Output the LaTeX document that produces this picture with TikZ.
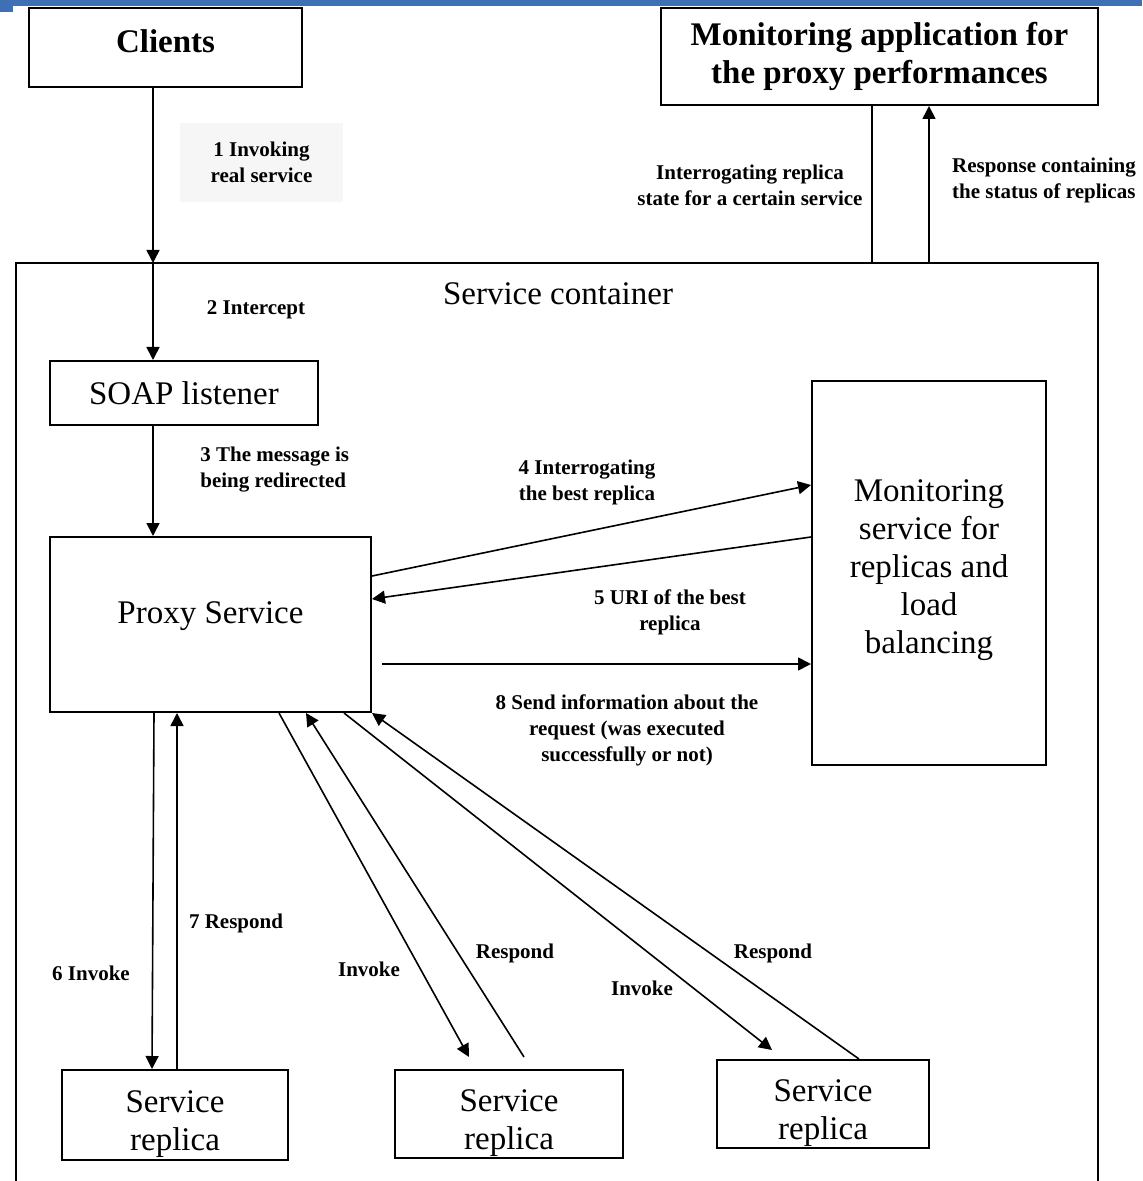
\documentclass[tikz,border=0pt]{standalone}
\usepackage{fontspec}
\setmainfont{Liberation Serif}
\usetikzlibrary{arrows.meta,calc}
\definecolor{barblue}{HTML}{3F6FB5}
\definecolor{faint}{HTML}{F6F6F6}
\begin{document}
\begin{tikzpicture}[x=0.5pt,y=-0.5pt,
  box/.style={draw,line width=1pt,inner sep=0pt,align=center,font=\fontsize{16.5}{19}\selectfont},
  boxtxt/.style={inner sep=0pt,align=center,font=\fontsize{16.5}{19}\selectfont},
  lbl/.style={inner sep=0pt,align=center,font=\fontsize{10.5}{13}\selectfont\bfseries},
  arr/.style={line width=0.8pt,-{Triangle[length=6.5pt,width=6.5pt]}},
  ln/.style={line width=0.8pt}]
\useasboundingbox (0,0) rectangle (1142,1181);
% top bar
\fill[barblue] (0,0) rectangle (1142,6);
\fill[barblue] (0,0) rectangle (13,12);
% service container
\draw[line width=1pt] (16,1181) -- (16,263) -- (1098,263) -- (1098,1181);
\node[boxtxt] (contlbl) at (558,294) {Service container};
\coordinate (ctop) at (153,263);
\coordinate (mq) at (872,263);
\coordinate (mr) at (929,263);
% boxes
\node[box,minimum width=136.5pt,minimum height=39.5pt,
  label={[boxtxt,font=\fontsize{16.5}{19}\selectfont\bfseries,yshift=3pt]center:Clients}] (clients) at (165.5,47.5) {};
\node[box,minimum width=218.5pt,minimum height=48.5pt,font=\fontsize{16.5}{19}\selectfont\bfseries] (monapp) at (879.5,56.5) {Monitoring application for\\the proxy performances};
\node[box,minimum width=134pt,minimum height=32pt] (soap) at (184,393) {SOAP listener};
\node[box,minimum width=160.5pt,minimum height=87.5pt,
  label={[boxtxt,yshift=4pt]center:Proxy Service}] (proxy) at (210.5,624.5) {};
\node[box,minimum width=117pt,minimum height=192pt,
  label={[boxtxt,yshift=1.5pt]center:{Monitoring\\service for\\replicas and\\load\\balancing}}] (monsvc) at (929,573) {};
\node[box,minimum width=113pt,minimum height=45pt,
  label={[boxtxt,yshift=-4.5pt]center:{Service\\replica}}] (rep1) at (175,1115) {};
\node[box,minimum width=114pt,minimum height=44pt,
  label={[boxtxt,yshift=-4.5pt]center:{Service\\replica}}] (rep2) at (509,1114) {};
\node[box,minimum width=106pt,minimum height=44pt,
  label={[boxtxt,yshift=-4.5pt]center:{Service\\replica}}] (rep3) at (823,1104) {};
% labels
\node[lbl,fill=faint,minimum width=81.5pt,minimum height=39.5pt] (l1) at (261.5,162.5) {1 Invoking\\real service};
\node[lbl] (l2) at (256,310) {2 Intercept};
\node[lbl,align=left,anchor=west] (l3) at (200,470) {3 The message is\\being redirected};
\node[lbl] (l4) at (587,482) {4 Interrogating\\the best replica};
\node[lbl] (l5) at (670,612) {5 URI of the best\\replica};
\node[lbl] (l8) at (627,730) {8 Send information about the\\request (was executed\\successfully or not)};
\node[lbl] (lm1) at (750,185) {Interrogating replica\\state for a certain service};
\node[lbl,align=left] (lm2) at (1044,180) {Response containing\\the status of replicas};
\node[lbl] (l6) at (91,973) {6 Invoke};
\node[lbl] (l7) at (236,923) {7 Respond};
\node[lbl] (li2) at (369,969) {Invoke};
\node[lbl] (lr2) at (515,953) {Respond};
\node[lbl] (li3) at (642,988) {Invoke};
\node[lbl] (lr3) at (773,953) {Respond};
% connectors
\draw[arr] (ctop |- clients.south) -- (ctop);
\draw[arr] (ctop) -- (ctop |- soap.north);
\draw[arr] (ctop |- soap.south) -- (ctop |- proxy.north);
\draw[ln] (mq) -- (mq |- monapp.south);
\draw[arr] (mr) -- (mr |- monapp.south);
\draw[arr] ($(proxy.north east)+(0,40)$) -- ($(monsvc.north west)+(0,105)$);
\draw[arr] ($(monsvc.north west)+(0,157)$) -- ($(proxy.north east)+(0,63)$);
\draw[arr] ($(proxy.north east)+(10,128)$) -- ($(monsvc.north west)+(0,284)$);
\draw[arr] ($(proxy.south west)+(105,0)$) -- ($(rep1.north west)+(91,0)$);
\draw[arr] ($(rep1.north west)+(116,0)$) -- ($(proxy.south west)+(128,0)$);
\draw[arr] ($(proxy.south west)+(230,0)$) -- ($(rep2.north west)+(75,-12)$);
\draw[arr] ($(rep2.north west)+(130,-12)$) -- ($(proxy.south west)+(257,0)$);
\draw[arr] ($(proxy.south west)+(295,0)$) -- ($(rep3.north west)+(56,-9)$);
\draw[arr] ($(rep3.north west)+(143,0)$) -- (proxy.south east);
\end{tikzpicture}
\end{document}
